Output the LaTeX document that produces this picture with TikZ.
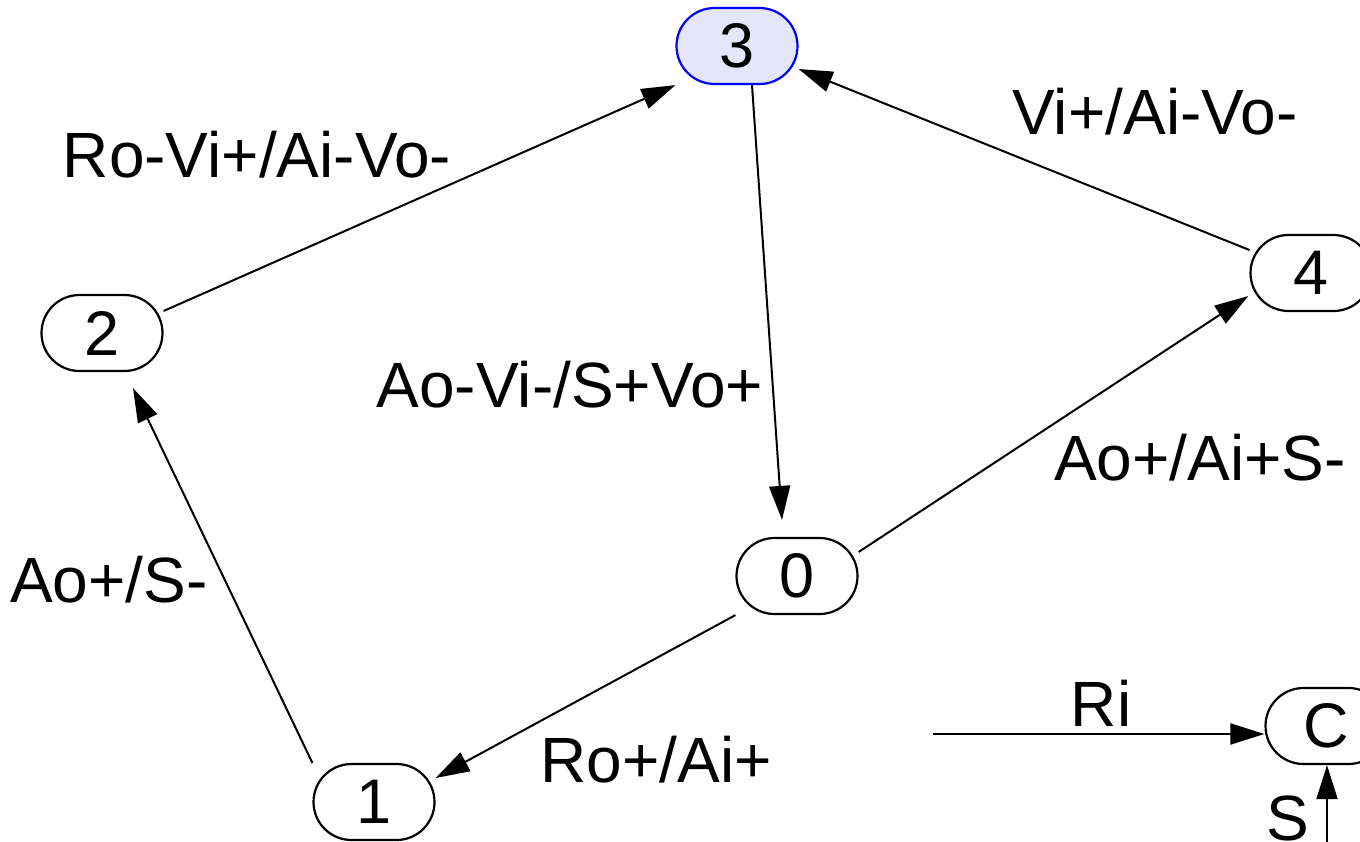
\documentclass[tikz,border=0pt]{standalone}
\usepackage{fontspec}
\setmainfont{Liberation Sans}
\usetikzlibrary{arrows.meta,calc}
\definecolor{statefill}{RGB}{230,230,250}
\begin{document}
\begin{tikzpicture}[x=1pt,y=-1pt,
  state/.style={draw=black,line width=2.2pt,rectangle,rounded corners=38pt,
    minimum width=121pt,minimum height=76pt,inner sep=0pt,
    font=\fontsize{63}{70}\selectfont},
  active/.style={state,draw=blue,fill=statefill},
  lbl/.style={inner sep=0pt,font=\fontsize{64}{72}\selectfont},
  edge/.style={draw=black,line width=2pt,-{Triangle[length=34pt,width=21pt]}}]
\clip (0,0) rectangle (1360,841);
\fill[white] (0,0) rectangle (1360,841);
% states
\node[active] (n3) at (737,46) {3};
\node[state] (n2) at (102,333) {2};
\node[state] (n4) at (1311,273) {4};
\node[state] (n0) at (797,576) {0};
\node[state] (n1) at (374,802) {1};
\node[state] (nC) at (1326,726) {C};
% free ends
\coordinate (riStart) at (933,734);
\coordinate (sStart) at (1327,860);
% transitions
\draw[edge] ([shift={(0,-22)}]n2.east) -- (n3.south west);
\draw[edge] ([shift={(15,0)}]n3.south) -- ([shift={(-15,-17)}]n0.north);
\draw[edge] ([shift={(0,-23)}]n4.west) -- ([shift={(0,23)}]n3.east);
\draw[edge] ([shift={(0,-24)}]n0.east) -- ([shift={(-1,23)}]n4.west);
\draw[edge] (n0.south west) -- ([shift={(0,-24)}]n1.east);
\draw[edge] (n1.north west) -- ([shift={(31,16)}]n2.south);
\draw[edge] (riStart) -- ([shift={(0,8)}]nC.west);
\draw[edge] (sStart) -- ([shift={(1,0)}]nC.south);
% labels
\node[lbl] (l23) at (257,155) {Ro-Vi+/Ai-Vo-};
\node[lbl] (l43) at (1155,112) {Vi+/Ai-Vo-};
\node[lbl] (l30) at (570,385) {Ao-Vi-/S+Vo+};
\node[lbl] (l04) at (1200,458) {Ao+/Ai+S-};
\node[lbl] (l12) at (109,580) {Ao+/S-};
\node[lbl] (l01) at (656,760) {Ro+/Ai+};
\node[lbl] (lri) at (1101,703) {Ri};
\node[lbl] (ls) at (1288,818) {S};
\end{tikzpicture}
\end{document}
